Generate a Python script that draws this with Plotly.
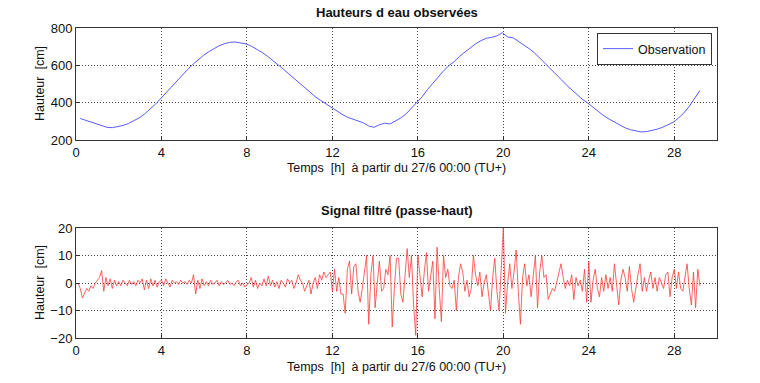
import numpy as np
import plotly.graph_objects as go
from plotly.subplots import make_subplots

# ---------------- data ----------------
obs_t0, obs_dt = 0.2, 0.25
obs_values = [
    315, 306, 295, 285, 275, 268, 266, 270, 278, 288,
    302, 318, 338, 362, 390, 420, 452, 483, 515, 545,
    575, 603, 628, 652, 672, 690, 705, 716, 723, 725,
    722, 715, 703, 688, 670, 650, 628, 605, 580, 555,
    530, 505, 480, 456, 432, 412, 393, 375, 355, 338,
    322, 312, 300, 292, 275, 268, 282, 290, 286, 300,
    318, 340, 370, 405, 432, 470, 505, 540, 570, 598,
    620, 648, 672, 695, 715, 732, 745, 750, 758, 775,
    752, 748, 730, 712, 690, 668, 640, 612, 585, 555,
    525, 495, 468, 442, 418, 398, 375, 352, 330, 312,
    295, 280, 265, 255, 248, 243, 245, 250, 258, 268,
    280, 295, 318, 345, 380, 420, 465,
]

hp_t0, hp_dt = 0.1, 0.1
hp_values = [
    0, -2, -5.5, -4, -2, -3, -1, -2, 0, 1,
    2, 4.5, -3, 2, -1, 1.5, -2, 1, -1, 0.5,
    -1, 1, 0, -1, 1, -0.5, 0.5, -1, 1, 0,
    1.5, -2.5, 1, -2, 1.5, -1, 1, -1.5, 0.5, 1,
    -1, 1.5, 0, -1.5, 1, 0, 0.5, -0.5, 1, 0,
    0.5, -0.5, 1, 0, 3, -4, 1, -2, 1.5, -1,
    0.5, -1, 1, -0.5, 0, 1, -1, 0.5, -0.5, 0,
    1, -0.5, 0, -1, 0.5, 1, -1, 0, -1.5, -0.5,
    0, 2, -1.5, 1, -2, 0, -1, 1.5, -1, 2.5,
    -1, 1, -1.5, 0.5, -2, 1, 0, -1.5, 1.5, 0,
    1, -2, 0, 3, 1, 0, -3, -1, 1, -4,
    0, 2, -2, 3, 1, 4, 2, 3, 4, -3,
    5, -3, 2, -4, -4, -11, 5, 8, -4, 6,
    7, -3, -7, -2, 4, 10, -15, 3, 10, -9,
    0, 8, -3, -2, 5, 3, 10, -16, -2, 9,
    9, -4, -7, 3, 12.5, 2, 10, -8, -19, 10,
    3, -5, 4, 11, -3, 2, 8, -13, 13, -2,
    -14, 10, 2, 5, -1, -2, 1, -10, 2, 7,
    4, -3, 1, -5, -2, 10, 3, -1, 4, -5,
    0, 3, -4, -10, 2, 9, -3, -10, 5, 20,
    -11, 0, 7, -2, 4, 12, -3, -15, 2, 7,
    -1, 3, -5, 4, 10, -9, 4, 10, 2, 3,
    -6, -4, -2, -3, 0, 3, 7, 2, -2, 1,
    -1, 3, -6, 2, -1, 1, -3, 5, -7, 8,
    -7, 1, 5, -2, -5, 2, -3, 3, -2, 2,
    -3, 7, -2, -8, 1, 5, 2, -3, 6, -2,
    -7, -1, 3, 7, -3, 2, -3, 1, 4, -2,
    2, -3, 2, 0, -2, 3, 4, -5, 2, 5,
    -2, 4, -2, -3, 3, 7, -2, -8, 4, -9,
    5, -1,
]

x_ticks = [0, 4, 8, 12, 16, 20, 24, 28]
top_y_ticks = [200, 400, 600, 800]
bot_y_ticks = [-20, -10, 0, 10, 20]

obs_t = np.round(obs_t0 + obs_dt * np.arange(len(obs_values)), 3)
hp_t = np.round(hp_t0 + hp_dt * np.arange(len(hp_values)), 3)

# ---------------- figure ----------------
W, H = 760, 383
ml, mr, mt, mb = 76, 43, 28, 45
ph = H - mt - mb


def ypap(py):
    return (H - mb - py) / ph


fig = make_subplots(rows=2, cols=1)
fig.add_trace(go.Scatter(x=obs_t, y=obs_values, mode="lines", name="Observation",
                         line=dict(color="#5a5aff", width=1)), row=1, col=1)
fig.add_trace(go.Scatter(x=hp_t, y=hp_values, mode="lines", name="filtre",
                         showlegend=False,
                         line=dict(color="#ff3b3b", width=0.8)), row=2, col=1)

font = "Liberation Sans, Arial, sans-serif"
axcommon = dict(showline=True, mirror=True, linecolor="#333", linewidth=1,
                ticks="inside", ticklen=4, tickcolor="#333", automargin=False,
                showgrid=True, gridcolor="#444", griddash="1px,2px", gridwidth=1,
                zeroline=False, tickfont=dict(family=font, size=13, color="#111"))

fig.update_xaxes(range=[0, 30], tickvals=x_ticks, **axcommon)
fig.update_yaxes(**axcommon)
fig.update_layout(
    xaxis=dict(domain=[0, 1], anchor="y"),
    yaxis=dict(domain=[ypap(140), 1], range=[200, 800], tickvals=top_y_ticks),
    xaxis2=dict(domain=[0, 1], anchor="y2"),
    yaxis2=dict(domain=[0, ypap(228)], range=[-20, 20], tickvals=bot_y_ticks),
)

ann = []
cx = 0.5
ann.append(dict(text="<b>Hauteurs d eau observées</b>", x=cx, y=ypap(12), xref="paper", yref="paper",
                showarrow=False, font=dict(family=font, size=13, color="#111"), yanchor="middle"))
ann.append(dict(text="<b>Signal filtré (passe-haut)</b>", x=cx, y=ypap(210), xref="paper", yref="paper",
                showarrow=False, font=dict(family=font, size=13, color="#111"), yanchor="middle"))
xl = "Temps  [h]  à partir du 27/6 00:00 (TU+)"
ann.append(dict(text=xl, x=cx, y=ypap(168), xref="paper", yref="paper",
                showarrow=False, font=dict(family=font, size=12.5, color="#111"), yanchor="middle"))
ann.append(dict(text=xl, x=cx, y=ypap(367), xref="paper", yref="paper",
                showarrow=False, font=dict(family=font, size=12.5, color="#111"), yanchor="middle"))
for py in [84, 283]:
    ann.append(dict(text="Hauteur  [cm]", x=(40 - ml) / (W - ml - mr), y=ypap(py), xref="paper", yref="paper",
                    showarrow=False, textangle=-90, font=dict(family=font, size=12.5, color="#111"),
                    xanchor="center", yanchor="middle"))

fig.update_layout(
    width=W, height=H,
    margin=dict(l=ml, r=mr, t=mt, b=mb, autoexpand=False),
    paper_bgcolor="white", plot_bgcolor="white",
    annotations=ann,
    showlegend=True,
    legend=dict(x=(712 - ml) / (W - ml - mr), y=ypap(33), xanchor="right", yanchor="top",
                bordercolor="#333", borderwidth=1, bgcolor="white",
                font=dict(family=font, size=12.5, color="#111")),
)

fig.write_html("out.html", config={"displayModeBar": False})

# remove default page margin so the figure sits at the window origin
with open("out.html", "r", encoding="utf-8") as f:
    html = f.read()
html = html.replace("<body>", '<body style="margin:0;padding:0;">', 1)
with open("out.html", "w", encoding="utf-8") as f:
    f.write(html)
